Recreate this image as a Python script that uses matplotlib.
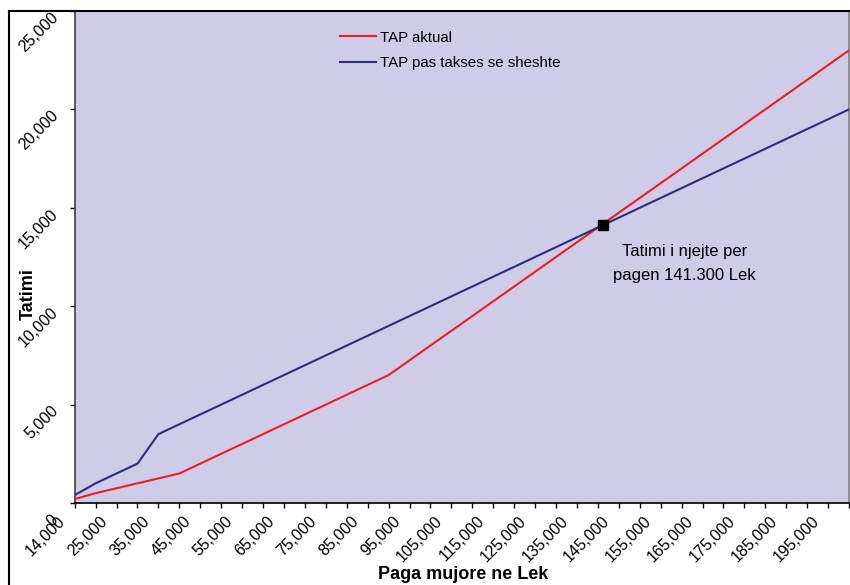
import matplotlib
matplotlib.use("Agg")
import matplotlib.pyplot as plt
from matplotlib.lines import Line2D
from matplotlib.ticker import FuncFormatter
from matplotlib.transforms import ScaledTranslation
import numpy as np

plt.rcParams['font.family'] = ['Liberation Sans', 'DejaVu Sans']

# Monthly wage categories (Lek)
wages = [14000, 20000, 25000, 30000, 35000, 40000, 45000, 50000, 55000,
         60000, 65000, 70000, 75000, 80000, 85000, 90000, 95000, 100000,
         105000, 110000, 115000, 120000, 125000, 130000, 135000, 140000,
         145000, 150000, 155000, 160000, 165000, 170000, 175000, 180000,
         185000, 190000, 195000, 200000]

# Current income tax
tap_aktual = [200, 500, 750, 1000, 1250, 1500, 2000, 2500, 3000,
              3500, 4000, 4500, 5000, 5500, 6000, 6500, 7250, 8000,
              8750, 9500, 10250, 11000, 11750, 12500, 13250, 14000,
              14750, 15500, 16250, 17000, 17750, 18500, 19250, 20000,
              20750, 21500, 22250, 23000]

# Income tax under the flat tax
tap_sheshte = [400, 1000, 1500, 2000, 3500, 4000, 4500, 5000, 5500,
               6000, 6500, 7000, 7500, 8000, 8500, 9000, 9500, 10000,
               10500, 11000, 11500, 12000, 12500, 13000, 13500, 14000,
               14500, 15000, 15500, 16000, 16500, 17000, 17500, 18000,
               18500, 19000, 19500, 20000]

# Break-even point
equal_wage = 141300
equal_tax = 14130

y_ticks = [0, 5000, 10000, 15000, 20000, 25000]

W, H = 850, 585
fig = plt.figure(figsize=(W / 100, H / 100), dpi=100)
ax = fig.add_axes([74.7 / W, 1 - 503 / H, (849 - 74.7) / W, (503 - 11) / H])
ax.set_facecolor('#CECCE7')

x = np.arange(len(wages))
red = '#EE1C25'
navy = '#2D2D7D'
ax.plot(x, tap_aktual, color=red, lw=1.5, label='TAP aktual', zorder=3)
ax.plot(x, tap_sheshte, color=navy, lw=1.5, label='TAP pas takses se sheshte', zorder=3)

xm = np.interp(equal_wage, wages, x)
ax.plot([xm], [equal_tax], marker='s', ms=7, color='black', ls='none', zorder=4)

ax.text(0.7875, 0.511, 'Tatimi i njejte per', transform=ax.transAxes,
        ha='center', va='center', fontsize=12)
ax.text(0.7875, 0.4614, f'pagen {equal_wage // 1000}.{equal_wage % 1000:03d} Lek',
        transform=ax.transAxes, ha='center', va='center', fontsize=12)

ax.set_xlim(0, len(wages) - 1)
ax.set_ylim(0, 25000)

ax.set_xticks(x)
ax.set_xticklabels([f'{w:,}' if i % 2 == 0 else '' for i, w in enumerate(wages)])
ax.set_yticks(y_ticks)
ax.yaxis.set_major_formatter(FuncFormatter(lambda v, p: f'{v:,.0f}'))

ax.tick_params(axis='x', length=3.6, width=1, direction='out', pad=7.8,
               labelsize=11.5, colors='black')
ax.tick_params(axis='y', length=3.6, width=1, direction='out', pad=9.8,
               labelsize=11.5, colors='black')

for lab in ax.get_xticklabels():
    lab.set_rotation(45)
    lab.set_ha('right')
    lab.set_va('center')
    lab.set_rotation_mode('anchor')
    lab.set_transform(lab.get_transform() +
                      ScaledTranslation(-0.115, 0, fig.dpi_scale_trans))

for i, lab in enumerate(ax.get_yticklabels()):
    lab.set_rotation(45)
    lab.set_ha('right')
    lab.set_va('center')
    lab.set_rotation_mode('anchor')
    dx, dy = (0.0, -0.04) if i else (-0.005, -0.145)
    lab.set_transform(lab.get_transform() +
                      ScaledTranslation(dx, dy, fig.dpi_scale_trans))

ax.spines['left'].set_color('#404040')
ax.spines['bottom'].set_color('black')
ax.spines['top'].set_color('black')
ax.spines['right'].set_color('#808080')
for s in ax.spines.values():
    s.set_linewidth(1.2)

ax.legend(loc='upper left', bbox_to_anchor=(340 / W, 1 - 30.5 / H),
          bbox_transform=fig.transFigure, frameon=False, fontsize=10.8,
          handlelength=2.4, handletextpad=0.3, labelspacing=0.8,
          borderpad=0, borderaxespad=0)

fig.text(463 / W, 1 - 579 / H, 'Paga mujore ne Lek', ha='center', va='baseline',
         fontsize=13, fontweight='bold')
fig.text(28 / W, 1 - 294 / H, 'Tatimi', ha='center', va='center', rotation=90,
         fontsize=13, fontweight='bold')

# chart-area border
fig.add_artist(Line2D([9 / W, 9 / W], [0, 1 - 11 / H], transform=fig.transFigure,
                      color='black', lw=1.5))
fig.add_artist(Line2D([9 / W, 1], [1 - 11 / H, 1 - 11 / H], transform=fig.transFigure,
                      color='black', lw=1.5))

fig.savefig('out.png', dpi=100, facecolor='white')
